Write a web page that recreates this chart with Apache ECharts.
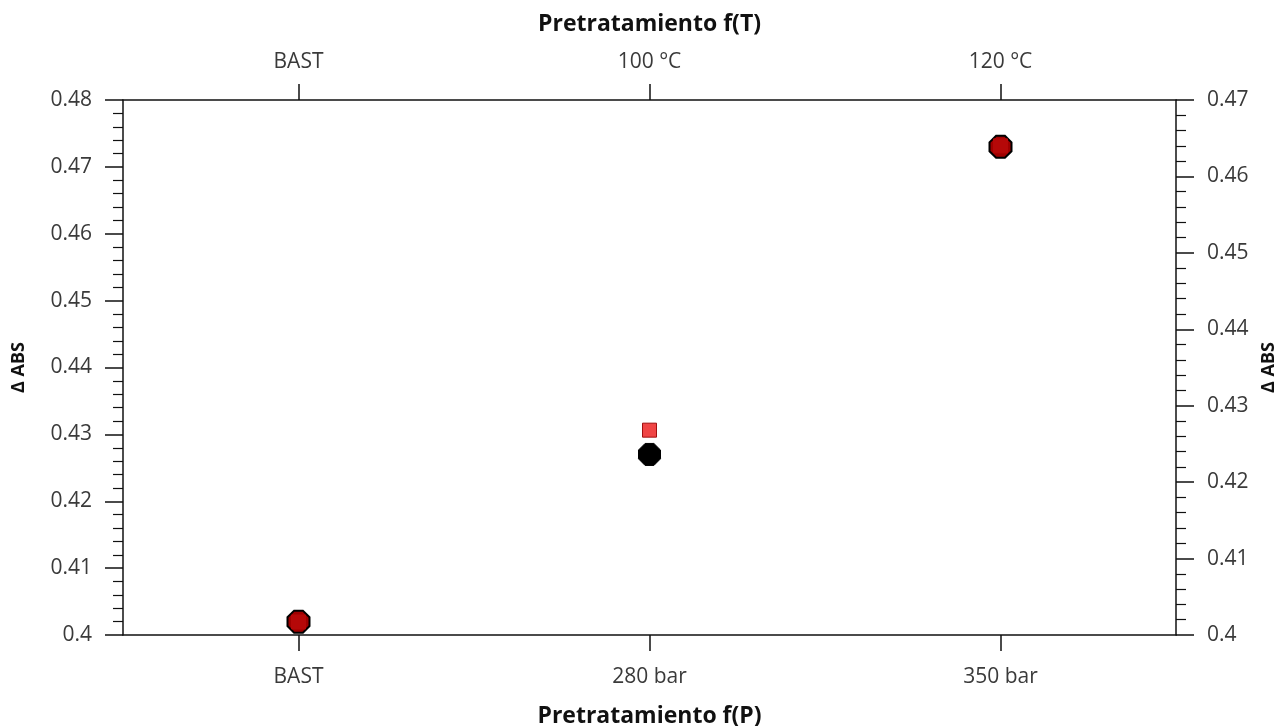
<!DOCTYPE html>
<html><head><meta charset="utf-8">
<script src="https://cdn.jsdelivr.net/npm/echarts@6/dist/echarts.min.js"></script>
<style>html,body{margin:0;padding:0;background:#fff}#c{width:1282px;height:726px}</style>
</head><body><div id="c"></div>
<script>
const catsP = ['BAST', '280 bar', '350 bar'];
const catsT = ['BAST', '100 °C', '120 °C'];
const absP = [0.402, 0.427, 0.473];     // black circles, left axis
const absT = [0.4017, 0.4268, 0.464];   // red squares, right axis
const leftTicks = {min: 0.40, max: 0.48, interval: 0.01};
const rightTicks = {min: 0.40, max: 0.47, interval: 0.01};

const FONT = 'Open Sans';
const lblColor = '#3a3a3a';
const OCT = 'path://M3,0 L7,0 L10,3 L10,7 L7,10 L3,10 L0,7 L0,3 Z';
function xAxisCfg(data, pos, name, gap, margin){
  return {type:'category', data, position:pos, name, nameLocation:'middle', nameGap:gap,
    nameTextStyle:{fontFamily:FONT, fontWeight:'bold', fontSize:23, color:'#111'},
    boundaryGap:true,
    axisLine:{show:true, onZero:false, lineStyle:{color:'#111', width:1.5}},
    axisTick:{show:true, alignWithLabel:true, length:16, lineStyle:{color:'#111', width:1.5}},
    axisLabel:{fontFamily:FONT, fontSize:21, color:lblColor, margin},
    splitLine:{show:false}};
}
function yAxisCfg(t, pos, gap){
  return {type:'value', position:pos, min:t.min, max:t.max, interval:t.interval,
    name:'Δ ABS', nameLocation:'middle', nameGap:gap, nameRotate:90,
    nameTextStyle:{fontFamily:FONT, fontWeight:'bold', fontSize:18, color:'#111'},
    axisLine:{show:true, lineStyle:{color:'#111', width:1.5}},
    axisTick:{show:true, length:18, lineStyle:{color:'#111', width:1.5}},
    minorTick:{show:true, splitNumber:5, length:10, lineStyle:{color:'#111', width:1.2}},
    axisLabel:{fontFamily:FONT, fontSize:21, color:lblColor, margin:31,
      formatter: v => String(parseFloat(v.toFixed(4)))},
    splitLine:{show:false}};
}
const chart = echarts.init(document.getElementById('c'), null, {renderer:'canvas'});
const option = {
  animation:false,
  backgroundColor:'#fff',
  grid:{left:123, right:106, top:100, bottom:91, show:false, containLabel:false, outerBoundsMode:'none'},
  xAxis:[xAxisCfg(catsP,'bottom','Pretratamiento f(P)',70,32), xAxisCfg(catsT,'top','Pretratamiento f(T)',64,27)],
  yAxis:[yAxisCfg(leftTicks,'left',95), yAxisCfg(rightTicks,'right',84)],
  series:[
    {name:'f(P)', type:'scatter', xAxisIndex:0, yAxisIndex:0, data:absP.slice(),
     symbol:OCT, symbolSize:22, itemStyle:{color:'#000', borderColor:'#000', borderWidth:1, opacity:1}, z:2},
    {name:'f(T)', type:'scatter', xAxisIndex:1, yAxisIndex:1, data:absT.slice(),
     symbol:'rect', symbolSize:14, itemStyle:{color:'#f04545', borderColor:'#a01010', borderWidth:1, opacity:1}, z:3}
  ]
};
chart.setOption(option);
// where the two markers coincide, the overlap appears as a dark-red marker with black rim
const pData = absP.map((v,i)=>{
  const a = chart.convertToPixel({xAxisIndex:0, yAxisIndex:0}, [i, v]);
  const b = chart.convertToPixel({xAxisIndex:1, yAxisIndex:1}, [i, absT[i]]);
  const overlap = Math.abs(a[1]-b[1]) < 6;
  return overlap ? {value:v, itemStyle:{color:'#a00000', borderColor:'#000', borderWidth:2, opacity:1}} : v;
});
const tData = absT.map((v,i)=>{
  const a = chart.convertToPixel({xAxisIndex:0, yAxisIndex:0}, [i, absP[i]]);
  const b = chart.convertToPixel({xAxisIndex:1, yAxisIndex:1}, [i, v]);
  const overlap = Math.abs(a[1]-b[1]) < 6;
  return overlap ? {value:v, itemStyle:{color:'#b50808', borderColor:'#b50808', opacity:1}} : v;
});
chart.setOption({series:[{data:pData},{data:tData}]});
</script></body></html>
